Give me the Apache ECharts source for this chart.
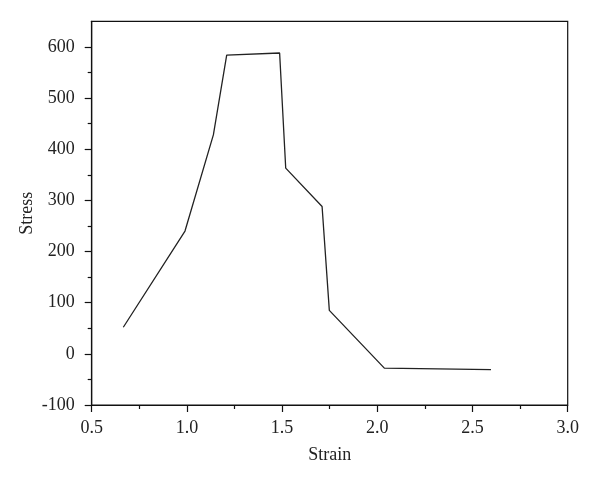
<!DOCTYPE html>
<html>
<head>
<meta charset="utf-8">
<script src="https://cdn.jsdelivr.net/npm/echarts@6/dist/echarts.min.js"></script>
<style>html,body{margin:0;padding:0;background:#fff}#c{width:600px;height:482px}</style>
</head>
<body>
<div id="c"></div>
<script>
var strain = [0.666, 0.99, 1.139, 1.209, 1.487, 1.519, 1.71, 1.748, 2.037, 2.597];
var stress = [52, 240, 428, 584, 588, 363, 288, 85, -28, -31];
var yMajorTicks = [-100, 0, 100, 200, 300, 400, 500, 600];
var yMinorTicks = [-50, 50, 150, 250, 350, 450, 550];

var font = 'Liberation Serif';
var chart = echarts.init(document.getElementById('c'));
chart.setOption({
  backgroundColor: '#fff',
  animation: false,
  grid: {left: 91.7, top: 21.3, right: 32.3, bottom: 77, show: true, borderColor: '#111', borderWidth: 1.2, backgroundColor: 'transparent'},
  xAxis: {
    type: 'value', min: 0.5, max: 3.0, interval: 0.5,
    name: 'Strain', nameLocation: 'middle', nameGap: 41, nameMoveOverlap: false,
    nameTextStyle: {fontFamily: font, fontSize: 18, color: '#222'},
    axisLine: {show: true, onZero: false, lineStyle: {color: '#111', width: 1.2}},
    axisTick: {show: true, inside: false, length: 7, lineStyle: {color: '#111', width: 1.2}},
    minorTick: {show: true, splitNumber: 2, length: 4, lineStyle: {color: '#111', width: 1.2}},
    axisLabel: {fontFamily: font, fontSize: 18, color: '#222', margin: 14, formatter: function(v){return v.toFixed(1);}},
    splitLine: {show: false}
  },
  yAxis: [{
    type: 'value', min: -100, max: 650, interval: 50,
    name: 'Stress', nameLocation: 'middle', nameGap: 55, nameMoveOverlap: false,
    nameTextStyle: {fontFamily: font, fontSize: 18, color: '#222'},
    axisLine: {show: true, onZero: false, lineStyle: {color: '#111', width: 1.2}},
    axisTick: {show: true, inside: false, length: 7, customValues: yMajorTicks, lineStyle: {color: '#111', width: 1.2}},
    axisLabel: {fontFamily: font, fontSize: 18, color: '#222', margin: 17, customValues: yMajorTicks},
    splitLine: {show: false}
  }, {
    type: 'value', min: -100, max: 650, interval: 50, position: 'left',
    axisLine: {show: false},
    axisTick: {show: true, inside: false, length: 4, customValues: yMinorTicks, lineStyle: {color: '#111', width: 1.2}},
    axisLabel: {show: false},
    splitLine: {show: false}
  }],
  series: [{
    type: 'line',
    data: strain.map(function(x, i){return [x, stress[i]];}),
    showSymbol: false,
    symbol: 'none',
    lineStyle: {color: '#222', width: 1.3},
    itemStyle: {color: '#222'}
  }]
});
</script>
</body>
</html>
